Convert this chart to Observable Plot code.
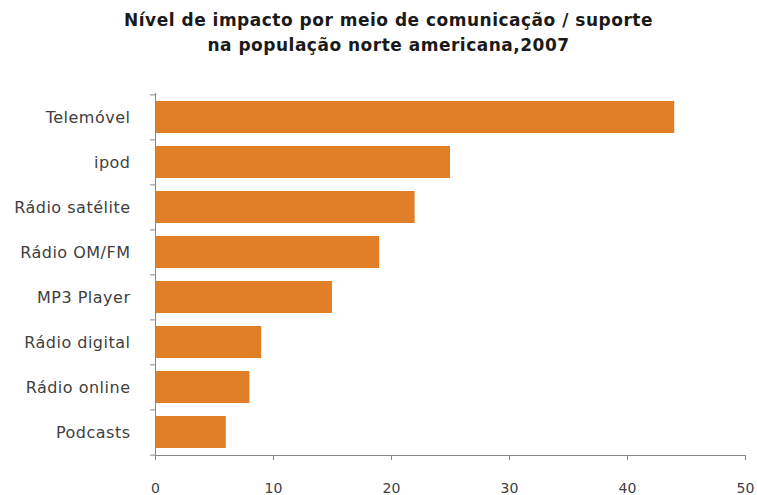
<!DOCTYPE html>
<html>
<head>
<meta charset="utf-8">
<script src="https://cdn.jsdelivr.net/npm/d3@7"></script>
<script src="https://cdn.jsdelivr.net/npm/@observablehq/plot@0.6"></script>
<style>
  html, body { margin: 0; padding: 0; background: #fff; }
  #title {
    width: 757px; box-sizing: border-box; padding-left: 20px; padding-top: 8px;
    height: 70px; text-align: center;
    font: bold 17px "DejaVu Sans", sans-serif; letter-spacing: 0.5px; line-height: 25px; color: #1a1a1a;
  }
  #chart svg g[aria-label="y-axis tick label"] text { letter-spacing: 0.5px; }
</style>
</head>
<body>
<div id="title">Nível de impacto por meio de comunicação / suporte<br>na população norte americana,2007</div>
<div id="chart"></div>
<script>
const categories = ["Telemóvel", "ipod", "Rádio satélite", "Rádio OM/FM", "MP3 Player", "Rádio digital", "Rádio online", "Podcasts"];
const values = [44, 25, 22, 19, 15, 9, 8, 6];
const xTicks = [0, 10, 20, 30, 40, 50];

const data = categories.map((c, i) => ({category: c, value: values[i]}));

const width = 757, height = 425;
const marginTop = 23, marginBottom = 40, marginLeft = 155, marginRight = 12;
const step = (height - marginTop - marginBottom) / categories.length;
const axisColor = "#888888";
const last = categories[categories.length - 1];

const chart = Plot.plot({
  width, height, marginTop, marginBottom, marginLeft, marginRight,
  style: {fontFamily: "DejaVu Sans, sans-serif", fontSize: "14px", color: "#404040", background: "#fff"},
  x: {domain: [0, 50], ticks: xTicks},
  y: {domain: categories, paddingInner: 0.29, paddingOuter: 0.145},
  marks: [
    Plot.barX(data, {y: "category", x: "value", fill: "#E07F28"}),
    Plot.ruleX([0], {stroke: axisColor}),
    Plot.frame({anchor: "bottom", stroke: axisColor}),
    Plot.ruleY(categories, {y: d => d, dy: -step / 2, x1: 0, x2: 0, insetLeft: -5, stroke: axisColor}),
    Plot.ruleY([last], {y: d => d, dy: step / 2, x1: 0, x2: 0, insetLeft: -5, stroke: axisColor}),
    Plot.axisY({tickSize: 0, tickPadding: 25, label: null, fontSize: 16}),
    Plot.axisX({ticks: xTicks, tickSize: 5, tickPadding: 23, label: null, stroke: axisColor, fontSize: 14})
  ]
});
document.getElementById("chart").appendChild(chart);
</script>
</body>
</html>
